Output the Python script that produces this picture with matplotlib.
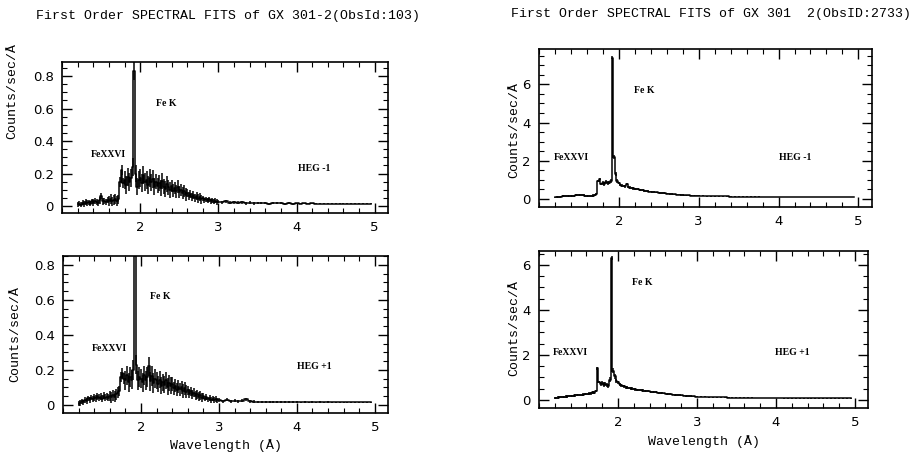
import numpy as np
from matplotlib import pyplot as plt
from matplotlib.ticker import MultipleLocator, FixedLocator, FuncFormatter

# wavelength bins (A): fine 0.02 A bins up to 3 A, coarse 0.05 A bins beyond
wave_fine = np.round(np.arange(1.20, 3.00, 0.02), 2)
wave_coarse = np.round(np.arange(3.00, 5.00, 0.05), 2)

# ObsId 103, HEG -1
flux_103_m1 = [
    0.010, 0.015, 0.008, 0.020, 0.012, 0.025, 0.018, 0.022, 0.015, 0.028,
    0.020, 0.030, 0.025, 0.018, 0.035, 0.060, 0.028, 0.032, 0.025, 0.038,
    0.030, 0.042, 0.028, 0.036, 0.045, 0.032, 0.040, 0.150, 0.220, 0.140,
    0.160, 0.130, 0.180, 0.150, 0.170, 0.240, 0.830, 0.200, 0.120, 0.160,
    0.170, 0.140, 0.190, 0.150, 0.160, 0.130, 0.175, 0.145, 0.165, 0.120,
    0.150, 0.125, 0.140, 0.110, 0.155, 0.120, 0.105, 0.135, 0.115, 0.100,
    0.125, 0.095, 0.110, 0.090, 0.120, 0.085, 0.100, 0.078, 0.092, 0.070,
    0.080, 0.062, 0.075, 0.055, 0.068, 0.050, 0.060, 0.045, 0.055, 0.040,
    0.048, 0.036, 0.042, 0.032, 0.040, 0.028, 0.035, 0.026, 0.032, 0.024,
    0.026, 0.022, 0.028, 0.020, 0.024, 0.019, 0.022, 0.018, 0.021, 0.017,
    0.019, 0.016, 0.018, 0.015, 0.018, 0.016, 0.017, 0.015, 0.016, 0.015,
    0.016, 0.015, 0.016, 0.014, 0.016, 0.015, 0.015, 0.014, 0.015, 0.015,
    0.015, 0.014, 0.015, 0.014, 0.015, 0.014, 0.015, 0.014, 0.015, 0.015,
]

# ObsId 103, HEG +1
flux_103_p1 = [
    0.008, 0.012, 0.020, 0.015, 0.030, 0.022, 0.038, 0.028, 0.042, 0.035,
    0.045, 0.038, 0.050, 0.040, 0.048, 0.036, 0.052, 0.042, 0.046, 0.040,
    0.050, 0.044, 0.055, 0.048, 0.060, 0.070, 0.080, 0.160, 0.180, 0.150,
    0.140, 0.170, 0.130, 0.160, 0.145, 0.200, 0.900, 0.230, 0.140, 0.160,
    0.150, 0.130, 0.170, 0.140, 0.160, 0.220, 0.135, 0.165, 0.125, 0.150,
    0.140, 0.120, 0.145, 0.110, 0.130, 0.115, 0.140, 0.105, 0.125, 0.110,
    0.120, 0.095, 0.110, 0.088, 0.105, 0.090, 0.100, 0.080, 0.095, 0.075,
    0.085, 0.065, 0.078, 0.058, 0.070, 0.052, 0.060, 0.046, 0.055, 0.042,
    0.050, 0.036, 0.044, 0.032, 0.040, 0.030, 0.036, 0.028, 0.034, 0.026,
    0.028, 0.022, 0.030, 0.021, 0.025, 0.020, 0.024, 0.032, 0.020, 0.018,
    0.018, 0.017, 0.019, 0.016, 0.017, 0.016, 0.018, 0.016, 0.017, 0.016,
    0.016, 0.015, 0.016, 0.015, 0.017, 0.015, 0.016, 0.015, 0.016, 0.015,
    0.015, 0.015, 0.016, 0.015, 0.015, 0.015, 0.016, 0.015, 0.015, 0.015,
]

# ObsID 2733, HEG -1
flux_2733_m1 = [
    0.08, 0.10, 0.11, 0.12, 0.13, 0.14, 0.15, 0.15, 0.16, 0.17,
    0.17, 0.18, 0.18, 0.19, 0.19, 0.20, 0.19, 0.20, 0.19, 0.18,
    0.17, 0.16, 0.16, 0.17, 0.18, 0.20, 0.25, 0.95, 1.05, 0.80,
    0.85, 0.78, 0.88, 0.82, 0.86, 0.95, 7.40, 2.20, 1.30, 0.95,
    0.85, 0.75, 0.70, 0.68, 0.66, 0.80, 0.62, 0.60, 0.58, 0.55,
    0.53, 0.51, 0.50, 0.48, 0.47, 0.45, 0.44, 0.42, 0.41, 0.39,
    0.38, 0.37, 0.36, 0.35, 0.34, 0.33, 0.32, 0.31, 0.30, 0.29,
    0.28, 0.27, 0.26, 0.26, 0.25, 0.24, 0.23, 0.23, 0.22, 0.21,
    0.21, 0.20, 0.20, 0.19, 0.19, 0.18, 0.18, 0.17, 0.17, 0.17,
    0.16, 0.16, 0.15, 0.15, 0.15, 0.14, 0.14, 0.14, 0.13, 0.13,
    0.13, 0.13, 0.12, 0.12, 0.12, 0.12, 0.11, 0.11, 0.11, 0.11,
    0.11, 0.11, 0.10, 0.10, 0.10, 0.10, 0.10, 0.10, 0.10, 0.10,
    0.10, 0.10, 0.10, 0.10, 0.10, 0.10, 0.10, 0.10, 0.10, 0.10,
]

# ObsID 2733, HEG +1
flux_2733_p1 = [
    0.08, 0.10, 0.11, 0.12, 0.13, 0.14, 0.14, 0.15, 0.16, 0.17,
    0.18, 0.18, 0.19, 0.20, 0.21, 0.21, 0.22, 0.23, 0.24, 0.25,
    0.26, 0.27, 0.28, 0.30, 0.34, 0.32, 0.40, 1.40, 0.80, 0.70,
    0.75, 0.68, 0.72, 0.66, 0.62, 0.90, 6.30, 1.30, 1.05, 0.85,
    0.78, 0.70, 0.65, 0.62, 0.60, 0.57, 0.55, 0.53, 0.52, 0.50,
    0.49, 0.47, 0.46, 0.45, 0.44, 0.43, 0.42, 0.41, 0.40, 0.39,
    0.38, 0.37, 0.36, 0.35, 0.34, 0.33, 0.32, 0.31, 0.30, 0.29,
    0.28, 0.27, 0.27, 0.26, 0.25, 0.24, 0.23, 0.23, 0.22, 0.21,
    0.20, 0.20, 0.19, 0.18, 0.18, 0.17, 0.17, 0.16, 0.16, 0.15,
    0.15, 0.14, 0.14, 0.13, 0.13, 0.12, 0.12, 0.12, 0.11, 0.11,
    0.11, 0.10, 0.10, 0.10, 0.10, 0.09, 0.09, 0.09, 0.09, 0.09,
    0.09, 0.09, 0.08, 0.08, 0.08, 0.08, 0.08, 0.08, 0.08, 0.08,
    0.08, 0.08, 0.08, 0.08, 0.08, 0.08, 0.08, 0.08, 0.08, 0.08,
]

# 1-sigma errors per 0.2 A block (fine bins) and per 0.5 A block (coarse bins)
err_103_fine = [0.016, 0.020, 0.030, 0.055, 0.055, 0.048, 0.038, 0.026, 0.016]
err_103_coarse = [0.009, 0.006, 0.004, 0.003]
err_2733_fine = [0.05, 0.05, 0.06, 0.10, 0.06, 0.05, 0.04, 0.035, 0.03]
err_2733_coarse = [0.025, 0.02, 0.015, 0.015]

wave = np.concatenate([wave_fine, wave_coarse])
err_103 = np.concatenate([np.repeat(err_103_fine, 10), np.repeat(err_103_coarse, 10)])
err_2733 = np.concatenate([np.repeat(err_2733_fine, 10), np.repeat(err_2733_coarse, 10)])

mono = 'Liberation Mono'
label_font = {'family': 'Liberation Serif', 'weight': 'bold', 'size': 7}

fig = plt.figure(figsize=(9.15, 4.57), dpi=100)

# rect, flux, err, ylim, y major, y minor, order, Fe K / FeXXVI / HEG text pos, ylabel pos, has xlabel
panels = [
    ([0.068, 0.534, 0.356, 0.330], flux_103_m1, err_103, (-0.043, 0.886), 0.2, 0.05, 'HEG -1',
     (2.33, 0.63), (1.585, 0.32), (4.23, 0.23), (-0.135, 0.81), False),
    ([0.069, 0.097, 0.355, 0.343], flux_103_p1, err_103, (-0.044, 0.851), 0.2, 0.05, 'HEG +1',
     (2.25, 0.62), (1.59, 0.32), (4.23, 0.22), (-0.13, 0.505), True),
    ([0.589, 0.547, 0.364, 0.346], flux_2733_m1, err_2733, (-0.42, 7.85), 2, 0.5, 'HEG -1',
     (2.32, 5.7), (1.41, 2.15), (4.21, 2.15), (-0.055, 0.49), False),
    ([0.589, 0.107, 0.360, 0.344], flux_2733_p1, err_2733, (-0.36, 6.62), 2, 0.5, 'HEG +1',
     (2.31, 5.2), (1.40, 2.1), (4.21, 2.1), (-0.056, 0.51), True),
]

for (rect, flux, err, ylim, ymaj, ymin, order, fek_pos, fe26_pos, heg_pos, ylab_pos, bottom) in panels:
    ax = fig.add_axes(rect)
    flux = np.array(flux)
    ax.errorbar(wave, flux, yerr=err, fmt='none', ecolor='black', elinewidth=1.1, capsize=0)
    ax.step(wave, flux, where='mid', color='black', lw=1.1)

    ax.set_xlim(1.0, 5.17)
    ax.set_ylim(*ylim)
    ax.xaxis.set_major_locator(FixedLocator([2, 3, 4, 5]))
    ax.xaxis.set_minor_locator(MultipleLocator(0.2))
    ax.yaxis.set_major_locator(MultipleLocator(ymaj))
    ax.yaxis.set_minor_locator(MultipleLocator(ymin))
    ax.yaxis.set_major_formatter(FuncFormatter(lambda v, p: '0' if abs(v) < 1e-9 else ('%g' % v)))
    ax.tick_params(which='both', direction='in', top=True, right=True, labelsize=9.5)
    ax.tick_params(which='major', length=7, width=1.0, pad=6)
    ax.tick_params(which='minor', length=3.5, width=0.8)
    for sp in ax.spines.values():
        sp.set_linewidth(1.2)

    ax.text(*fek_pos, 'Fe K', fontdict=label_font, ha='center', va='center')
    ax.text(*fe26_pos, 'FeXXVI', fontdict=label_font, ha='center', va='center')
    ax.text(*heg_pos, order, fontdict=label_font, ha='center', va='center')

    ax.set_ylabel('Counts/sec/Å', family=mono, fontsize=9.5)
    ax.yaxis.set_label_coords(*ylab_pos)
    if bottom:
        ax.set_xlabel('Wavelength (Å)', family=mono, fontsize=9.5, labelpad=4)

fig.text(0.249, 1 - 16 / 457, 'First Order SPECTRAL FITS of GX 301-2(ObsId:103)',
         family=mono, fontsize=9.5, ha='center', va='center')
fig.text(0.777, 1 - 14 / 457, 'First Order SPECTRAL FITS of GX 301  2(ObsID:2733)',
         family=mono, fontsize=9.5, ha='center', va='center')

plt.savefig('out.png', dpi=100)
